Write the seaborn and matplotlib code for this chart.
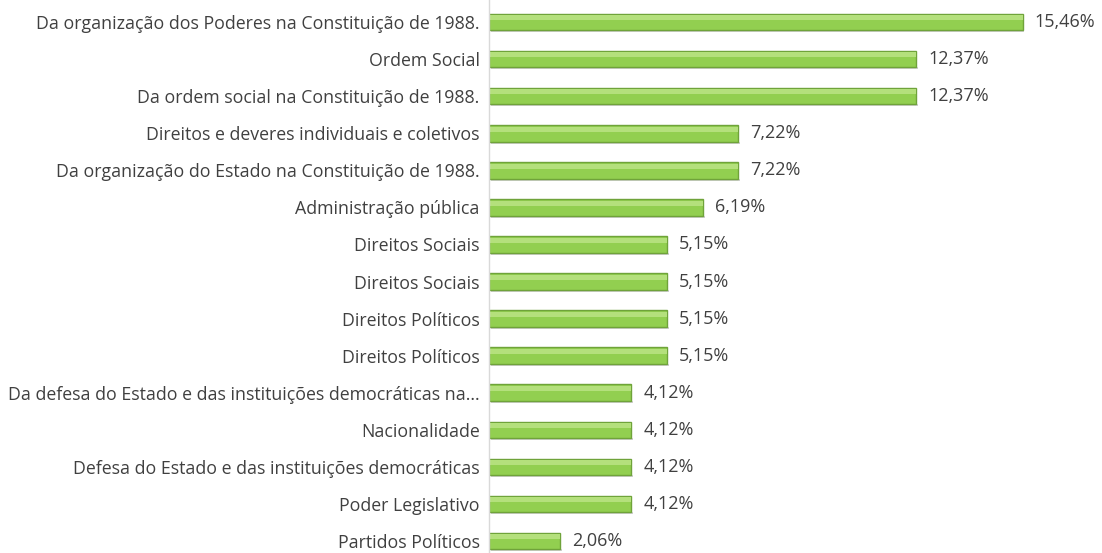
import matplotlib
matplotlib.use("Agg")
import matplotlib.pyplot as plt
import seaborn as sns
import pandas as pd

categories = [
    "Da organização dos Poderes na Constituição de 1988.",
    "Ordem Social",
    "Da ordem social na Constituição de 1988.",
    "Direitos e deveres individuais e coletivos",
    "Da organização do Estado na Constituição de 1988.",
    "Administração pública",
    "Direitos Sociais",
    "Direitos Sociais",
    "Direitos Políticos",
    "Direitos Políticos",
    "Da defesa do Estado e das instituições democráticas na...",
    "Nacionalidade",
    "Defesa do Estado e das instituições democráticas",
    "Poder Legislativo",
    "Partidos Políticos",
]
values = [15.46, 12.37, 12.37, 7.22, 7.22, 6.19, 5.15, 5.15, 5.15, 5.15,
          4.12, 4.12, 4.12, 4.12, 2.06]

df = pd.DataFrame({"key": [str(i) for i in range(len(values))],
                   "categoria": categories, "valor": values})

sns.set_style("white")
plt.rcParams["font.family"] = ["Open Sans", "DejaVu Sans"]

fig = plt.figure(figsize=(11.02, 5.53), dpi=100)
ax = fig.add_axes([0.444, 0.0, 0.546, 1.0])

sns.barplot(data=df, x="valor", y="key", orient="h", ax=ax,
            color="#92cf50", edgecolor="#6fa33a", linewidth=1.0,
            width=0.45, saturation=1)

# faux 3D: light band on top, soft shadow below
for p in list(ax.patches):
    x0, y0 = p.get_x(), p.get_y()
    w, h = p.get_width(), p.get_height()
    ax.add_patch(plt.Rectangle((x0, y0 + h * 0.1), w, h * 0.3,
                               color="#b4e07c", lw=0, zorder=p.get_zorder() + 0.1))
    ax.add_patch(plt.Rectangle((x0 + 0.05, y0 + h), w, h * 0.12,
                               color="#cfcfcf", lw=0, zorder=p.get_zorder() - 0.1))

for i, v in enumerate(values):
    ax.text(v + 0.35, i, f"{v:.2f}".replace(".", ",") + "%",
            va="center", ha="left", fontsize=13, color="#404040")

ax.set_yticks(range(len(categories)))
ax.set_yticklabels(categories, fontsize=12.8, color="#404040")
ax.tick_params(axis="y", length=0, pad=7)
ax.set_xlim(0, 17.44)
ax.set_ylim(14.32, -0.593)
ax.set_xticks([])
ax.set_xlabel("")
ax.set_ylabel("")
for s in ["top", "right", "bottom"]:
    ax.spines[s].set_visible(False)
ax.spines["left"].set_color("#d9d9d9")
ax.spines["left"].set_linewidth(1.0)

fig.savefig("out.png", dpi=100)
